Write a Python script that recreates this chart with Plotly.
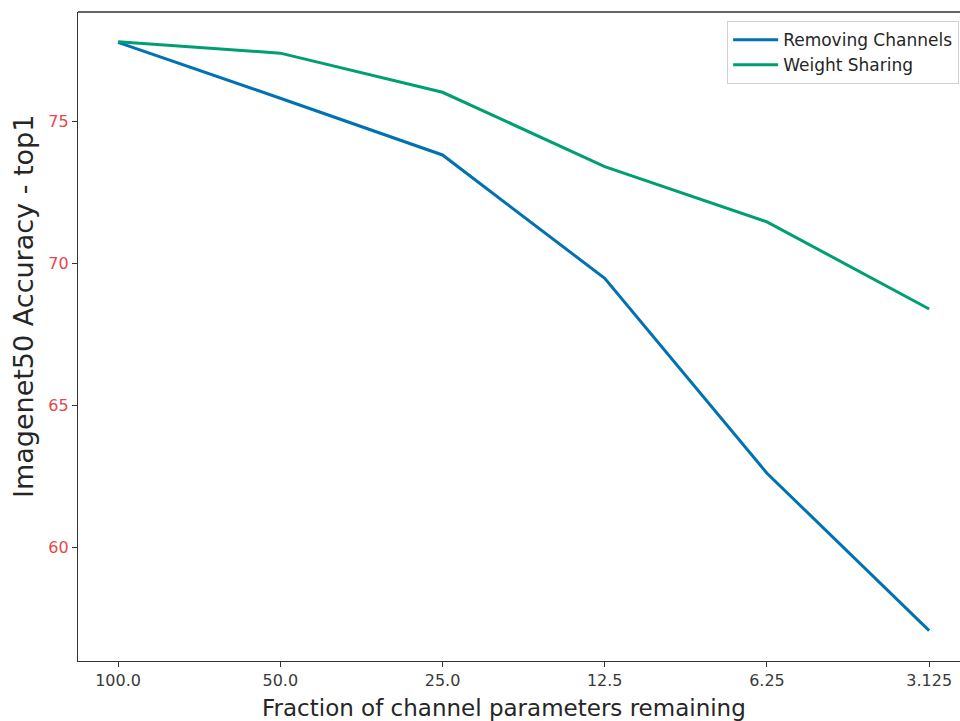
import plotly.graph_objects as go

# Fraction of channel parameters kept (categorical x positions)
fractions = ["100.0", "50.0", "25.0", "12.5", "6.25", "3.125"]
removing_channels = [77.8, 75.83, 73.83, 69.48, 62.61, 57.06]
weight_sharing = [77.82, 77.42, 76.04, 73.42, 71.47, 68.40]
y_ticks = [60, 65, 70, 75]

FONT = "DejaVu Sans"
idx = list(range(len(fractions)))

fig = go.Figure()
fig.add_trace(go.Scatter(x=idx, y=removing_channels, mode="lines",
                         name="Removing Channels",
                         line=dict(color="#0072B2", width=3)))
fig.add_trace(go.Scatter(x=idx, y=weight_sharing, mode="lines",
                         name="Weight Sharing",
                         line=dict(color="#009E73", width=3)))

fig.update_layout(
    width=960, height=721,
    margin=dict(l=78, r=0, t=12, b=60),
    paper_bgcolor="white", plot_bgcolor="white",
    font=dict(family=FONT, color="#262626"),
    showlegend=True,
    legend=dict(x=0.736, y=0.986, xanchor="left", yanchor="top",
                bgcolor="rgba(255,255,255,0.8)", bordercolor="#d0d0d0",
                borderwidth=1, itemwidth=45,
                font=dict(size=17, family=FONT, color="#262626"),
                tracegroupgap=0),
    # top spine only (frame is open on the right)
    shapes=[dict(type="line", xref="paper", yref="paper",
                 x0=0, x1=1, y0=1, y1=1,
                 line=dict(color="#333333", width=1.3))],
    annotations=[
        dict(text="Fraction of channel parameters remaining",
             xref="paper", yref="paper", x=(504 - 78) / 882, y=-47 / 649,
             xanchor="center", yanchor="middle", showarrow=False,
             font=dict(size=23, family=FONT, color="#262626")),
        dict(text="Imagenet50 Accuracy - top1", textangle=-90,
             xref="paper", yref="paper", x=-55 / 882, y=(661 - 307) / 649,
             xanchor="center", yanchor="middle", showarrow=False,
             font=dict(size=27, family=FONT, color="#262626")),
    ],
)

fig.update_xaxes(
    range=[-0.247, 5.19], tickvals=idx, ticktext=fractions,
    showgrid=False, zeroline=False,
    showline=True, linecolor="#333333", linewidth=1.3, mirror=False,
    ticks="outside", ticklen=5, tickcolor="#333333",
    tickfont=dict(size=16, color="#3a3a3a"),
)
fig.update_yaxes(
    range=[55.99, 78.87], tickvals=y_ticks,
    showgrid=False, zeroline=False,
    showline=True, linecolor="#333333", linewidth=1.3, mirror=False,
    ticks="outside", ticklen=5, tickcolor="#333333",
    tickfont=dict(size=16, color="#e8474a"),
)

fig.write_html("out.html")
